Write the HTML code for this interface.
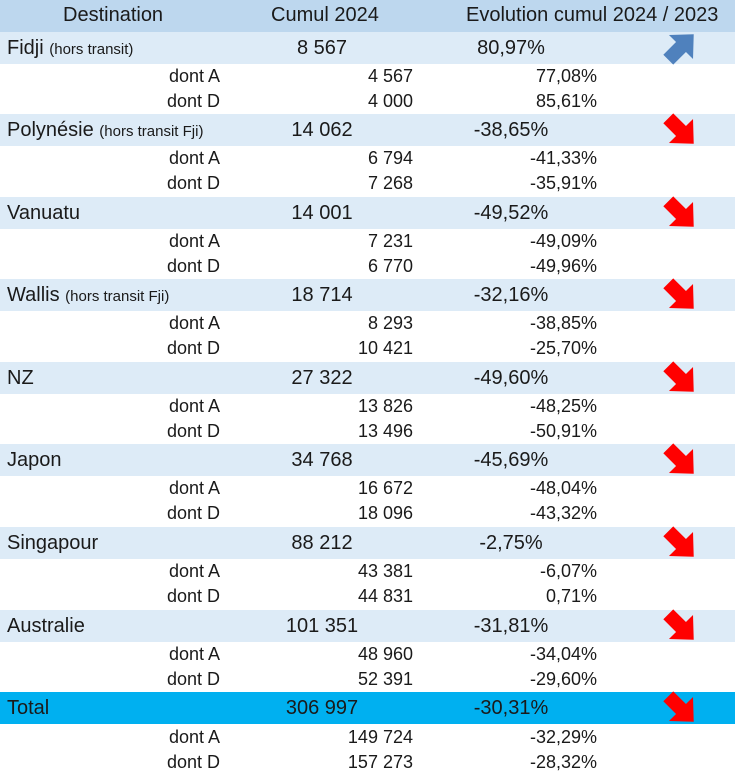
<!DOCTYPE html>
<html><head><meta charset="utf-8"><style>
body{margin:0;width:735px;height:773px;background:#fff;font-family:"Liberation Sans",sans-serif;color:#1a1a1a;overflow:hidden;position:relative}
.r{position:absolute;left:0;width:735px}
.hd{top:0;height:32px;background:#bdd7ee;font-size:20px}
.g{height:32px;background:#ddebf7;font-size:20px}
.t{background:#00b0f0}
.s{height:25px;font-size:18px}
.c{position:absolute;white-space:nowrap}
small{font-size:15px}
</style></head><body>
<div class="r hd">
<span class="c" style="left:63px;top:4px">Destination</span>
<span class="c" style="left:271px;top:4px">Cumul 2024</span>
<span class="c" style="left:466px;top:4px">Evolution cumul 2024 / 2023</span>
</div>
<div id="body"></div>
<script>
const names=["Fidji <small>(hors transit)</small>","Polynésie <small>(hors transit Fji)</small>","Vanuatu","Wallis <small>(hors transit Fji)</small>","NZ","Japon","Singapour","Australie","Total"];
const totals=["8 567","14 062","14 001","18 714","27 322","34 768","88 212","101 351","306 997"];
const evols=["80,97%","-38,65%","-49,52%","-32,16%","-49,60%","-45,69%","-2,75%","-31,81%","-30,31%"];
const aVals=["4 567","6 794","7 231","8 293","13 826","16 672","43 381","48 960","149 724"];
const aEvol=["77,08%","-41,33%","-49,09%","-38,85%","-48,25%","-48,04%","-6,07%","-34,04%","-32,29%"];
const dVals=["4 000","7 268","6 770","10 421","13 496","18 096","44 831","52 391","157 273"];
const dEvol=["85,61%","-35,91%","-49,96%","-25,70%","-50,91%","-43,32%","0,71%","-29,60%","-28,32%"];
const tops=[32,114,197,279,362,444,527,610,692];
const body=document.getElementById('body');
function cell(parent,html,style){const s=document.createElement('span');s.className='c';s.innerHTML=html;s.setAttribute('style',style);parent.appendChild(s);return s;}
for(let i=0;i<names.length;i++){
  const g=document.createElement('div');
  g.className='r g'+(i==8?' t':'');
  g.style.top=tops[i]+'px';
  
  
  body.appendChild(g);
  let e=cell(g,names[i],'left:7px;top:5px');
  
  
  e=cell(g,totals[i],'left:322px;top:5px;transform:translateX(-50%)');
  
  
  e=cell(g,evols[i],'left:511px;top:5px;transform:translateX(-50%)');
  
  
  const up=evols[i].charAt(0)!='-';
  const col=up?'#4f81bd':'#ff0000';
  const rot=up?-45:45;
  const svg='<svg width="38" height="36" viewBox="0 0 38 36"><g transform="rotate('+rot+' 19 18)"><polygon points="1,11 19,11 19,1 37,18 19,35 19,25 1,25" fill="'+col+'"/></g></svg>';
  e=cell(g,svg,'left:662px;top:'+(up?-3:-1)+'px');
  
  
  const subs=[["dont A",aVals[i],aEvol[i]],["dont D",dVals[i],dEvol[i]]];
  for(let k=0;k<2;k++){
    const s=document.createElement('div');
    s.className='r s';
    s.style.top=(tops[i]+(i==8?33:32)+k*25)+'px';
    
    
    body.appendChild(s);
    e=cell(s,subs[k][0],'right:515px;top:2px');
    
    
    e=cell(s,subs[k][1],'right:322px;top:2px');
    
    
    e=cell(s,subs[k][2],'right:138px;top:2px');
    
    
  }
}
</script>
</body></html>
